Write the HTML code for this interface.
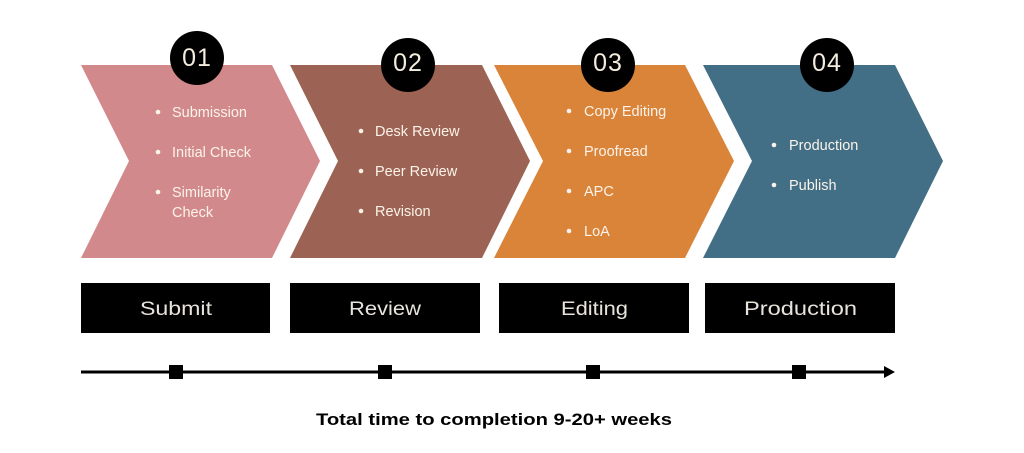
<!DOCTYPE html>
<html><head><style>
body{margin:0;width:1024px;height:448px;background:#fff;overflow:hidden;font-family:"Liberation Sans",sans-serif;}
</style></head><body>
<svg width="1024" height="448" xmlns="http://www.w3.org/2000/svg" font-family="Liberation Sans, sans-serif">
<polygon points="81,65 272,65 320,161 272,258 81,258 129,161" fill="#d2898b"/>
<polygon points="290,65 482,65 530,161 482,258 290,258 338,161" fill="#9c6253"/>
<polygon points="494,65 685,65 734,161 685,258 494,258 543,161" fill="#da843a"/>
<polygon points="703,65 895,65 943,161 895,258 703,258 752,161" fill="#426f86"/>
<g fill="#000">
<circle cx="197" cy="58" r="27"/><circle cx="408" cy="65" r="27"/>
<circle cx="608" cy="65" r="27"/><circle cx="827" cy="65" r="27"/>
</g>
<g fill="#f3ecdf" font-size="25" text-anchor="middle" letter-spacing="1">
<text x="197" y="66">01</text><text x="408" y="71">02</text>
<text x="608" y="71">03</text><text x="827" y="71">04</text>
</g>
<g fill="#fbf3ea" font-size="14.5">
<circle cx="158" cy="112" r="2.3"/><text x="172" y="117">Submission</text>
<circle cx="158" cy="152" r="2.3"/><text x="172" y="157">Initial Check</text>
<circle cx="158" cy="192" r="2.3"/><text x="172" y="197">Similarity</text><text x="172" y="217">Check</text>
<circle cx="361" cy="131" r="2.3"/><text x="375" y="136">Desk Review</text>
<circle cx="361" cy="171" r="2.3"/><text x="375" y="176">Peer Review</text>
<circle cx="361" cy="211" r="2.3"/><text x="375" y="216">Revision</text>
<circle cx="569" cy="111" r="2.3"/><text x="584" y="116">Copy Editing</text>
<circle cx="569" cy="151" r="2.3"/><text x="584" y="156">Proofread</text>
<circle cx="569" cy="191" r="2.3"/><text x="584" y="196">APC</text>
<circle cx="569" cy="231" r="2.3"/><text x="584" y="236">LoA</text>
<circle cx="774" cy="145" r="2.3"/><text x="789" y="150">Production</text>
<circle cx="774" cy="185" r="2.3"/><text x="789" y="190">Publish</text>
</g>
<g fill="#000">
<rect x="81" y="283" width="189" height="50"/><rect x="290" y="283" width="190" height="50"/>
<rect x="499" y="283" width="190" height="50"/><rect x="705" y="283" width="190" height="50"/>
</g>
<g fill="#e8e4dc" font-size="19">
<text x="140" y="315" textLength="72" lengthAdjust="spacingAndGlyphs">Submit</text>
<text x="349" y="315" textLength="72" lengthAdjust="spacingAndGlyphs">Review</text>
<text x="561" y="315" textLength="67" lengthAdjust="spacingAndGlyphs">Editing</text>
<text x="744" y="315" textLength="113" lengthAdjust="spacingAndGlyphs">Production</text>
</g>
<line x1="81" y1="372" x2="886" y2="372" stroke="#000" stroke-width="3"/>
<polygon points="884,366 895,372 884,378" fill="#000"/>
<g fill="#000">
<rect x="169" y="365" width="14" height="14"/><rect x="378" y="365" width="14" height="14"/>
<rect x="586" y="365" width="14" height="14"/><rect x="792" y="365" width="14" height="14"/>
</g>
<text x="316" y="425" font-size="16.5" font-weight="bold" textLength="356" lengthAdjust="spacingAndGlyphs" fill="#000">Total time to completion 9-20+ weeks</text>
</svg>
</body></html>
